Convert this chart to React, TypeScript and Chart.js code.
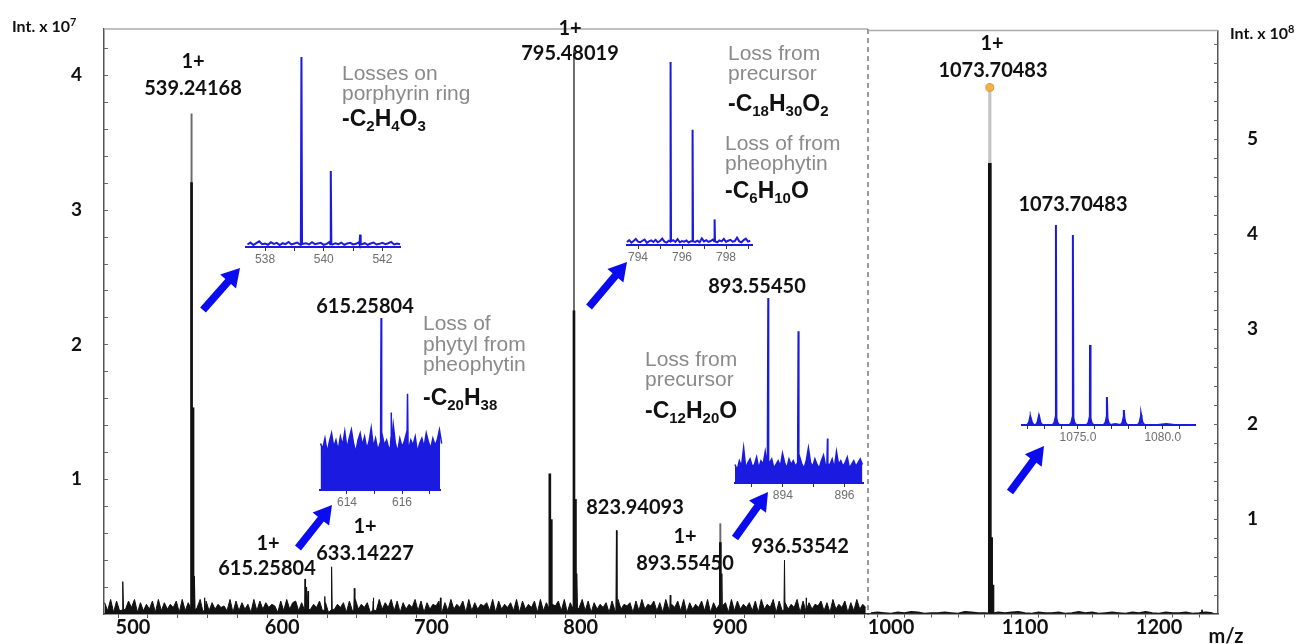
import React, { useEffect, useRef } from 'react';
import { Chart, registerables } from 'chart.js';

Chart.register(...registerables);

// ================= DATA =================
// Left panel: m/z 480–992, intensity in units of 10^7
const leftMzMin = 480.57;
const leftMzMax = 992.5;
const leftIntMax = 4.34;
const leftXLabels = [500, 600, 700, 800, 900];
const leftYLabels = [1, 2, 3, 4];

// baseline noise (digits, one per 2 m/z starting at 481), 1 digit = 0.012 x10^7
const leftNoiseStart = 481;
const leftNoiseStep = 2;
const leftNoiseScale = 0.012;
const leftNoiseDigits = [
  '7291826384917263', '8192736481927364', '9182736452918273', '6192837465182937',
  '8271936482719364', '7182936471829374', '9281736492817365', '8172936481927365',
  '7291836472918364', '8192736582917364', '9281736471829365', '7182936582719364',
  '8291736482917365', '7192836472819364', '9182736491827365', '8271936481729364',
].join('');

// thin peaks [m/z, intensity x10^7]
const leftMinorPeaks: [number, number][] = [
  [493.3, 0.24], [541.24, 0.28], [548.0, 0.12], [615.26, 0.26], [616.3, 0.2],
  [617.3, 0.17], [628.5, 0.13], [633.14, 0.35], [648.3, 0.19], [661.0, 0.12],
  [706.0, 0.12], [797.5, 0.3], [823.94, 0.62], [860.0, 0.14], [894.55, 0.3],
  [936.54, 0.4], [951.0, 0.12],
];
// strong peaks, dark lower part
const leftStrongPeaks: [number, number][] = [
  [539.24, 3.2], [540.24, 1.53], [779.3, 1.04], [780.3, 0.7],
  [795.48, 2.25], [796.48, 0.85], [893.55, 0.53],
];
// strong peaks, grey apex part
const leftPeakTops: [number, number][] = [
  [539.24, 3.71], [795.48, 4.18], [893.55, 0.67],
];

// Right panel: m/z 983–1244, intensity in units of 10^8
const rightMzMin = 982.8;
const rightMzMax = 1244.0;
const rightIntMax = 6.14;
const rightXLabels = [1000, 1100, 1200];
const rightYLabels = [1, 2, 3, 4, 5];
const rightNoiseStart = 985;
const rightNoiseStep = 5;
const rightNoiseScale = 0.006;
const rightNoise = [1,2,1,0,2,1,3,2,0,1,1,2,1,0,3,2,1,1,0,2,1,2,3,1,0,2,1,1,2,0,1,3,1,2,0,1,2,1,0,2,1,3,1,0,2,1,1,2,0,1,2,1];
const rightMinorPeaks: [number, number][] = [[1232.0, 0.04]];
const rightStrongPeaks: [number, number][] = [[1073.7, 4.74], [1074.7, 0.8], [1075.7, 0.3]];
const rightPeakTops: [number, number][] = [[1073.7, 5.54]];
const rightApex: [number, number][] = [[1073.7, 5.54]];

// ---------- insets (relative intensity) ----------
const insetA_peaks: [number, number][] = [[539.24, 1.0], [540.24, 0.4], [541.24, 0.065]];
const insetA_noise = [8,14,6,12,18,9,11,7,15,10,13,6,12,9,16,8,11,14,7,10,12,8,15,9,11,13,7,10,16,8,12,9,14,7,11,13,8,10,15,9,12,7,11,14,8,10,13,9,12,16,8,11,9];
const insetA_ticks = [538, 539, 540, 541, 542];
const insetA_labels = [538, 540, 542];

const insetB_peaks: [number, number][] = [[795.48, 1.0], [796.48, 0.63], [797.48, 0.14]];
const insetB_noise = [10,16,8,13,20,11,9,14,18,7,12,15,10,17,9,13,21,11,8,14,12,16,10,19,9,13,11,15,8,12,17,10,14,9,22,12,16,10,13,18,11,9,15,12,20,10,14,17,11,13,24,12,9,16,21,11,14];
const insetB_ticks = [794, 795, 796, 797, 798, 799];
const insetB_labels = [794, 796, 798];

const insetC_peaks: [number, number][] = [[615.24, 1.0], [615.6, 0.45], [616.2, 0.56]];
const insetC_noise = [27,24,30,22,28,33,25,29,23,31,26,34,24,30,35,27,22,29,33,26,31,24,28,36,25,30,23,27,32,26,29,24,31,38,27,22,30,25,28,33,24,29,26,31,22,27,30,25,33,28,24,30,26,29,35,27];
const insetC_ticks = [614, 615, 616, 617];
const insetC_labels = [614, 616];

const insetD_peaks: [number, number][] = [[893.52, 1.0], [894.5, 0.82], [895.45, 0.24]];
const insetD_noise = [10,7,12,9,19,8,11,13,9,10,14,8,12,10,17,9,11,13,8,10,12,9,16,11,8,13,10,12,9,11,14,10,8,12,19,11,9,13,10,8,12,15,9,11,10,13,8,17,10,12,9,11,14,8,10,12,9,11,13,10];
const insetD_ticks = [893, 894, 895, 896];
const insetD_labels = [894, 896];

const insetE_peaks: [number, number][] = [
  [1072.2, 0.012], [1072.7, 0.02], [1073.7, 1.0], [1074.7, 0.95], [1075.71, 0.4],
  [1076.71, 0.14], [1077.71, 0.075], [1078.72, 0.05],
];
const insetE_noise = [0,0,1,0,0,0,1,0,0,0,0,1,0,0,0,0,0,1,0,0,0];
const insetE_ticks = [1072, 1073, 1074, 1075, 1076, 1077, 1078, 1079, 1080, 1081];
const insetE_labels = [1075, 1080];

// ================= HELPERS =================
type Pt = { x: number; y: number };

function profile(start: number, step: number, noise: number[], scale: number,
  peaks: [number, number][], half: number, base: number, foot = false): Pt[] {
  const pts: Pt[] = noise.map((v, i) => ({ x: start + i * step, y: v * scale }));
  peaks.forEach(([m, h]) => {
    if (foot) {
      pts.push({ x: m - 0.2, y: 0 }, { x: m - 0.09, y: 0.012 }, { x: m - 0.03, y: 0.035 }, { x: m, y: h },
        { x: m + 0.03, y: 0.035 }, { x: m + 0.09, y: 0.012 }, { x: m + 0.2, y: 0 });
    } else {
      pts.push({ x: m - half, y: base }, { x: m, y: h }, { x: m + half, y: base });
    }
  });
  pts.sort((a, b) => a.x - b.x);
  return pts;
}
const toPts = (arr: [number, number][]) => arr.map(([x, y]) => ({ x, y }));
function stepList(a: number, b: number, s: number) {
  const out: number[] = [];
  for (let v = a; v <= b + 1e-9; v += s) out.push(Math.round(v * 1000) / 1000);
  return out;
}

const BLUE = '#1a1ae0';
const ARROW = '#0b0bf0';
const LABEL_FONT = 'Lato, "Open Sans", sans-serif';
const NOTE_FONT = '"Liberation Sans", Arial, sans-serif';

function framePlugin(side: 'left' | 'right') {
  return {
    id: 'frame_' + side,
    afterDraw(chart: any) {
      const { ctx, chartArea: a } = chart;
      ctx.save();
      ctx.strokeStyle = '#ababab';
      ctx.lineWidth = 1.5;
      ctx.beginPath(); ctx.moveTo(a.left, a.top); ctx.lineTo(a.right, a.top); ctx.stroke();
      if (side === 'left') {
        ctx.setLineDash([5, 4]);
        ctx.strokeStyle = '#7a7a7a';
        ctx.beginPath(); ctx.moveTo(a.right, a.top); ctx.lineTo(a.right, a.bottom); ctx.stroke();
        ctx.setLineDash([]);
      }
      const ys = chart.scales.y;
      ctx.strokeStyle = '#666';
      ctx.lineWidth = 1;
      ys.ticks.forEach((t: any) => {
        const py = Math.round(ys.getPixelForValue(t.value)) + 0.5;
        ctx.beginPath();
        if (side === 'left') { ctx.moveTo(a.left, py); ctx.lineTo(a.left + 4, py); }
        else { ctx.moveTo(a.right, py); ctx.lineTo(a.right - 4, py); }
        ctx.stroke();
      });
      ctx.restore();
    },
  };
}

function mainOptions(cfg: any) {
  return {
    animation: false,
    responsive: false,
    maintainAspectRatio: false,
    events: [],
    layout: { padding: cfg.padding, autoPadding: false },
    plugins: { legend: { display: false }, tooltip: { enabled: false } },
    scales: {
      x: {
        type: 'linear', min: cfg.xmin, max: cfg.xmax, offset: false,
        afterBuildTicks: (s: any) => { s.ticks = cfg.xticks.map((v: number) => ({ value: v })); },
        ticks: {
          autoSkip: false, maxRotation: 0, padding: 0, color: '#111',
          font: { family: LABEL_FONT, weight: 'bold', size: 20, lineHeight: 1 },
          callback: (v: number) => (cfg.xlabels.includes(v) ? String(v) : ''),
        },
        grid: { display: true, drawOnChartArea: false, drawTicks: true, tickLength: 4, color: '#555' },
        border: { color: '#333', width: 1.5 },
        afterFit: (s: any) => { s.height = cfg.xh; },
      },
      y: {
        type: 'linear', position: cfg.side, min: 0, max: cfg.ymax,
        afterBuildTicks: (s: any) => { s.ticks = cfg.yticks.map((v: number) => ({ value: v })); },
        ticks: {
          autoSkip: false, padding: cfg.ypad, color: '#111',
          font: { family: LABEL_FONT, weight: 'bold', size: 19, lineHeight: 1 },
          callback: (v: number) => (cfg.ylabels.some((l: number) => Math.abs(l - v) < 1e-6) ? String(Math.round(v)) : ''),
        },
        grid: { display: false },
        border: { color: '#555', width: 1.5 },
        afterFit: (s: any) => { s.width = cfg.yw; },
      },
    },
  };
}

type InsetDef = {
  box: { left: number; right: number; top: number; bottom: number };
  min: number; max: number; ticks: number[]; labels: number[]; decimals: number;
  data: Pt[]; fill: boolean; width: number;
};

const insets: InsetDef[] = [
  { box: { left: 246, right: 400, top: 57, bottom: 247 }, min: 537.35, max: 542.6,
    ticks: insetA_ticks, labels: insetA_labels, decimals: 0, fill: false, width: 2,
    data: profile(537.4, 0.1, insetA_noise, 1 / 600, insetA_peaks, 0.02, 0.015) },
  { box: { left: 627, right: 752, top: 62, bottom: 245 }, min: 793.5, max: 799.18,
    ticks: insetB_ticks, labels: insetB_labels, decimals: 0, fill: false, width: 2,
    data: profile(793.5, 0.1, insetB_noise, 1 / 600, insetB_peaks, 0.02, 0.02) },
  { box: { left: 320, right: 440, top: 318, bottom: 490 }, min: 613.02, max: 617.38,
    ticks: insetC_ticks, labels: insetC_labels, decimals: 0, fill: true, width: 1.5,
    data: profile(613.04, 0.08, insetC_noise, 1 / 100, insetC_peaks, 0.02, 0.25) },
  { box: { left: 735, right: 863, top: 298, bottom: 483 }, min: 892.45, max: 896.6,
    ticks: insetD_ticks, labels: insetD_labels, decimals: 0, fill: true, width: 1.5,
    data: profile(892.45, 0.07, insetD_noise, 1 / 100, insetD_peaks, 0.02, 0.1) },
  { box: { left: 1022, right: 1195, top: 225, bottom: 425 }, min: 1071.7, max: 1081.9,
    ticks: insetE_ticks, labels: insetE_labels, decimals: 1, fill: false, width: 2,
    data: profile(1071.7, 0.5, insetE_noise, 1 / 200, insetE_peaks, 0.02, 0, true) },
];
const INSET_PAD = { l: 10, r: 10, t: 6, b: 24 };

const arrows: [number, number, number, number][] = [
  [203, 310, 240, 268],
  [589, 307, 627, 262],
  [298, 548, 332, 505],
  [735, 538, 768, 492],
  [1010, 492, 1044, 446],
];

function arrowPoints(tx: number, ty: number, px: number, py: number) {
  const dx = px - tx, dy = py - ty;
  const len = Math.hypot(dx, dy);
  const ux = dx / len, uy = dy / len;
  const nx = -uy, ny = ux;
  const w = 3.8, W = 10.5, L = 18;
  const bx = px - ux * L, by = py - uy * L;
  const p = [
    [tx + nx * w, ty + ny * w], [bx + nx * w, by + ny * w], [bx + nx * W, by + ny * W],
    [px, py], [bx - nx * W, by - ny * W], [bx - nx * w, by - ny * w], [tx - nx * w, ty - ny * w],
  ];
  return p.map((q) => q[0].toFixed(1) + ',' + q[1].toFixed(1)).join(' ');
}

// ================= COMPONENTS =================
const abs: React.CSSProperties = { position: 'absolute', whiteSpace: 'nowrap', lineHeight: 1 };

function Lbl({ x, y, children, size = 20 }: any) {
  return (
    <div style={{ ...abs, left: x, top: y, transform: 'translate(-50%,-50%)', fontFamily: LABEL_FONT,
      fontWeight: 700, fontSize: size, color: '#111' }}>{children}</div>
  );
}
function Note({ x, y, children }: any) {
  return (
    <div style={{ ...abs, left: x, top: y, transform: 'translate(0,-50%)', fontFamily: NOTE_FONT,
      fontSize: 21, color: '#8a8a8a' }}>{children}</div>
  );
}
function Formula({ x, y, children }: any) {
  return (
    <div style={{ ...abs, left: x, top: y, transform: 'translate(0,-50%)', fontFamily: NOTE_FONT,
      fontWeight: 700, fontSize: 23, color: '#111' }}>{children}</div>
  );
}
function S({ children }: any) {
  return <span style={{ fontSize: 15, position: 'relative', top: 5 }}>{children}</span>;
}

export default function App() {
  const leftRef = useRef<HTMLCanvasElement>(null);
  const rightRef = useRef<HTMLCanvasElement>(null);
  const insetRefs = useRef<(HTMLCanvasElement | null)[]>([]);

  useEffect(() => {
    const charts: Chart[] = [];
    const leftNoise = leftNoiseDigits.split('').map(Number);
    const leftProfile = profile(leftNoiseStart, leftNoiseStep, leftNoise, leftNoiseScale, leftMinorPeaks, 0.35, 0.03);
    const rightProfile = profile(rightNoiseStart, rightNoiseStep, rightNoise, rightNoiseScale, rightMinorPeaks, 0.4, 0.01);

    if (leftRef.current) {
      charts.push(new Chart(leftRef.current, {
        type: 'line',
        data: {
          datasets: [
            { type: 'bar', data: toPts(leftStrongPeaks), backgroundColor: '#111', barThickness: 2, grouped: false, order: 1 } as any,
            { type: 'line', data: leftProfile, borderColor: '#111', borderWidth: 1, pointRadius: 0, fill: 'origin',
              backgroundColor: '#111', tension: 0, order: 2 } as any,
            { type: 'bar', data: toPts(leftPeakTops), backgroundColor: '#6a6a6a', barThickness: 1.3, grouped: false, order: 3 } as any,
          ],
        },
        options: mainOptions({
          padding: { left: 0, right: 4, top: 29, bottom: 0 }, xmin: leftMzMin, xmax: leftMzMax,
          xticks: stepList(500, 980, 20), xlabels: leftXLabels, xh: 30, side: 'left', ymax: leftIntMax,
          yticks: stepList(0.2, 4.2, 0.2), ylabels: leftYLabels, ypad: 14, yw: 104,
        }) as any,
        plugins: [framePlugin('left')],
      }));
    }
    if (rightRef.current) {
      charts.push(new Chart(rightRef.current, {
        type: 'line',
        data: {
          datasets: [
            { type: 'scatter', data: toPts(rightApex), pointRadius: 4, pointBackgroundColor: '#f2b04e',
              pointBorderColor: '#e39a2c', pointBorderWidth: 1, showLine: false, order: 0 } as any,
            { type: 'bar', data: toPts(rightStrongPeaks), backgroundColor: '#111', barThickness: 3, grouped: false, order: 1 } as any,
            { type: 'line', data: rightProfile, borderColor: '#111', borderWidth: 1.5, pointRadius: 0, fill: 'origin',
              backgroundColor: '#111', tension: 0, order: 2 } as any,
            { type: 'bar', data: toPts(rightPeakTops), backgroundColor: '#c4c4c4', barThickness: 2.5, grouped: false, order: 3 } as any,
          ],
        },
        options: mainOptions({
          padding: { left: 4, right: 0, top: 29, bottom: 0 }, xmin: rightMzMin, xmax: rightMzMax,
          xticks: stepList(1000, 1240, 20), xlabels: rightXLabels, xh: 28, side: 'right', ymax: rightIntMax,
          yticks: stepList(0.2, 6.0, 0.2), ylabels: rightYLabels, ypad: 21, yw: 93,
        }) as any,
        plugins: [framePlugin('right')],
      }));
    }
    insets.forEach((d, i) => {
      const cv = insetRefs.current[i];
      if (!cv) return;
      charts.push(new Chart(cv, {
        type: 'line',
        data: {
          datasets: [{ data: d.data, borderColor: BLUE, borderWidth: d.width, pointRadius: 0, tension: 0,
            fill: d.fill ? 'origin' : false, backgroundColor: BLUE, clip: false } as any],
        },
        options: {
          animation: false, responsive: false, maintainAspectRatio: false, events: [],
          layout: { padding: { left: INSET_PAD.l, right: INSET_PAD.r, top: INSET_PAD.t, bottom: 0 }, autoPadding: false },
          plugins: { legend: { display: false }, tooltip: { enabled: false } },
          scales: {
            x: {
              type: 'linear', min: d.min, max: d.max,
              afterBuildTicks: (s: any) => { s.ticks = d.ticks.map((v) => ({ value: v })); },
              ticks: {
                autoSkip: false, maxRotation: 0, padding: 1, color: '#6e6e6e',
                font: { family: NOTE_FONT, size: 12 },
                callback: (v: number) => (d.labels.includes(v) ? v.toFixed(d.decimals) : ''),
              },
              grid: { display: true, drawOnChartArea: false, drawTicks: true, tickLength: 4, color: '#333' },
              border: { color: BLUE, width: 2 },
              afterFit: (s: any) => { s.height = INSET_PAD.b; },
            },
            y: { display: false, min: 0, max: 1 },
          },
        } as any,
      }));
    });
    return () => { charts.forEach((c) => c.destroy()); };
  }, []);

  return (
    <div style={{ position: 'fixed', left: 0, top: 0, width: 1311, height: 644, background: '#fff', overflow: 'hidden' }}>
      <canvas ref={leftRef} width={872} height={644} style={{ position: 'absolute', left: 0, top: 0 }} />
      <canvas ref={rightRef} width={447} height={644} style={{ position: 'absolute', left: 864, top: 0 }} />
      {insets.map((d, i) => (
        <canvas key={i} ref={(el) => { insetRefs.current[i] = el; }}
          width={d.box.right - d.box.left + INSET_PAD.l + INSET_PAD.r}
          height={d.box.bottom - d.box.top + INSET_PAD.t + INSET_PAD.b}
          style={{ position: 'absolute', left: d.box.left - INSET_PAD.l, top: d.box.top - INSET_PAD.t }} />
      ))}
      <svg width={1311} height={644} style={{ position: 'absolute', left: 0, top: 0, pointerEvents: 'none' }}>
        {arrows.map((a, i) => <polygon key={i} points={arrowPoints(a[0], a[1], a[2], a[3])} fill={ARROW} />)}
      </svg>

      {/* axis titles */}
      <div style={{ ...abs, left: 12, top: 26, transform: 'translate(0,-50%)', fontFamily: LABEL_FONT, fontWeight: 700, fontSize: 16, color: '#111' }}>
        Int. x 10<span style={{ fontSize: 11, position: 'relative', top: -6 }}>7</span>
      </div>
      <div style={{ ...abs, left: 1230, top: 33, transform: 'translate(0,-50%)', fontFamily: LABEL_FONT, fontWeight: 700, fontSize: 16, color: '#111' }}>
        Int. x 10<span style={{ fontSize: 11, position: 'relative', top: -6 }}>8</span>
      </div>
      <Lbl x={1226} y={635}>m/z</Lbl>

      {/* peak labels */}
      <Lbl x={193} y={60}>1+</Lbl>
      <Lbl x={193} y={87}>539.24168</Lbl>
      <Lbl x={570} y={27}>1+</Lbl>
      <Lbl x={570} y={52}>795.48019</Lbl>
      <Lbl x={992} y={42}>1+</Lbl>
      <Lbl x={993} y={69}>1073.70483</Lbl>
      <Lbl x={268} y={542}>1+</Lbl>
      <Lbl x={267} y={567}>615.25804</Lbl>
      <Lbl x={365} y={525}>1+</Lbl>
      <Lbl x={365} y={552}>633.14227</Lbl>
      <Lbl x={635} y={506}>823.94093</Lbl>
      <Lbl x={685} y={535}>1+</Lbl>
      <Lbl x={685} y={562}>893.55450</Lbl>
      <Lbl x={800} y={545}>936.53542</Lbl>
      <Lbl x={365} y={305}>615.25804</Lbl>
      <Lbl x={757} y={285}>893.55450</Lbl>
      <Lbl x={1073} y={203}>1073.70483</Lbl>

      {/* annotations */}
      <Note x={342} y={72}>Losses on</Note>
      <Note x={342} y={92}>porphyrin ring</Note>
      <Formula x={342} y={118}>-C<S>2</S>H<S>4</S>O<S>3</S></Formula>

      <Note x={728} y={52}>Loss from</Note>
      <Note x={728} y={72}>precursor</Note>
      <Formula x={728} y={103}>-C<S>18</S>H<S>30</S>O<S>2</S></Formula>
      <Note x={725} y={142}>Loss of from</Note>
      <Note x={725} y={162}>pheophytin</Note>
      <Formula x={725} y={190}>-C<S>6</S>H<S>10</S>O</Formula>

      <Note x={423} y={322}>Loss of</Note>
      <Note x={423} y={343}>phytyl from</Note>
      <Note x={423} y={363}>pheophytin</Note>
      <Formula x={423} y={397}>-C<S>20</S>H<S>38</S></Formula>

      <Note x={645} y={358}>Loss from</Note>
      <Note x={645} y={378}>precursor</Note>
      <Formula x={645} y={410}>-C<S>12</S>H<S>20</S>O</Formula>
    </div>
  );
}
